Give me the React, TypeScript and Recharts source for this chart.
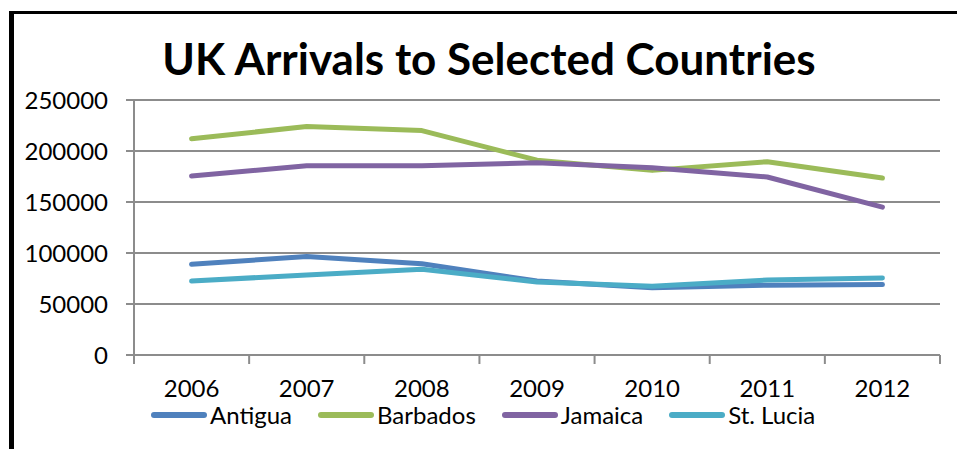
import React from 'react';
import { LineChart, Line, XAxis, YAxis, CartesianGrid, Legend } from 'recharts';

const years = ['2006', '2007', '2008', '2009', '2010', '2011', '2012'];
const antigua = [89000, 96500, 89500, 72500, 66000, 68500, 69000];
const barbados = [212000, 224000, 220000, 191000, 181000, 189500, 173500];
const jamaica = [175500, 185500, 185500, 188500, 183500, 174500, 145000];
const stLucia = [72500, 78500, 84000, 71500, 67500, 73500, 75500];
const yTicks = [0, 50000, 100000, 150000, 200000, 250000];

const seriesDefs = [
  { key: 'Antigua', values: antigua, color: '#4F81BD' },
  { key: 'Barbados', values: barbados, color: '#9BBB59' },
  { key: 'Jamaica', values: jamaica, color: '#8064A2' },
  { key: 'St. Lucia', values: stLucia, color: '#4BACC6' },
];

const data = years.map((y, i) => {
  const row: Record<string, string | number> = { year: y };
  seriesDefs.forEach((s) => {
    row[s.key] = s.values[i];
  });
  return row;
});

const FONT = 'Lato, "Open Sans", sans-serif';
const GRID = '#8c8c8c';

const XTick = (props: any) => {
  const { x, y, payload, index } = props;
  const off = payload && typeof payload.offset === 'number' ? payload.offset : 0;
  const last = index === years.length - 1;
  return (
    <g>
      <line x1={x - off} x2={x - off} y1={y} y2={y + 9} stroke={GRID} strokeWidth={2} />
      {last && <line x1={x + off} x2={x + off} y1={y} y2={y + 9} stroke={GRID} strokeWidth={2} />}
      <text x={x} y={y + 42} textAnchor="middle" fill="#000" fontSize={24} fontFamily={FONT}>
        {payload.value}
      </text>
    </g>
  );
};

const LegendContent = (props: any) => {
  const { payload } = props;
  return (
    <div style={{ display: 'flex', alignItems: 'center', paddingLeft: 150, fontFamily: FONT, fontSize: 24, color: '#000' }}>
      {(payload || []).map((p: any) => (
        <div key={p.value} style={{ display: 'flex', alignItems: 'center', marginRight: 25 }}>
          <svg width={57} height={10} style={{ display: 'block' }}>
            <line x1={4} x2={54} y1={5} y2={5} stroke={p.color} strokeWidth={6} strokeLinecap="round" />
          </svg>
          <span style={{ marginLeft: 3, lineHeight: '26px' }}>{p.value}</span>
        </div>
      ))}
    </div>
  );
};

export default function App() {
  return (
    <div style={{ position: 'absolute', left: 0, top: 0, width: 957, height: 449, background: '#fff', overflow: 'hidden', fontFamily: FONT }}>
      <div
        style={{
          position: 'absolute',
          left: 9,
          top: 11,
          width: 1000,
          height: 500,
          borderLeft: '5px solid #000',
          borderTop: '3px solid #000',
          boxSizing: 'border-box',
        }}
      />
      <div
        style={{
          position: 'absolute',
          left: 139,
          top: 36,
          width: 700,
          textAlign: 'center',
          fontSize: 44,
          lineHeight: '44px',
          fontWeight: 700,
          color: '#000',
          fontFamily: FONT,
          whiteSpace: 'nowrap',
        }}
      >
        UK Arrivals to Selected Countries
      </div>
      <div style={{ position: 'absolute', left: 0, top: 0 }}>
        <LineChart width={957} height={449} data={data} margin={{ top: 100, right: 17, bottom: 54, left: 0 }}>
          <CartesianGrid vertical={false} stroke={GRID} strokeWidth={2} />
          <XAxis
            dataKey="year"
            scale="band"
            height={40}
            tickSize={0}
            tickMargin={0}
            tickLine={false}
            axisLine={{ stroke: GRID, strokeWidth: 2 }}
            tick={<XTick />}
            interval={0}
          />
          <YAxis
            width={134}
            domain={[0, 250000]}
            ticks={yTicks}
            interval={0}
            tickSize={8}
            tickMargin={18}
            axisLine={{ stroke: GRID, strokeWidth: 2 }}
            tickLine={{ stroke: GRID, strokeWidth: 2 }}
            tick={{ fill: '#000', fontSize: 24, fontFamily: FONT }}
          />
          <Legend
            layout="horizontal"
            verticalAlign="middle"
            align="center"
            content={<LegendContent />}
            wrapperStyle={{ top: 402, left: 0, width: 957 }}
          />
          {seriesDefs.map((s) => (
            <Line
              key={s.key}
              dataKey={s.key}
              name={s.key}
              stroke={s.color}
              strokeWidth={5}
              strokeLinecap="round"
              strokeLinejoin="round"
              dot={false}
              type="linear"
              isAnimationActive={false}
            />
          ))}
        </LineChart>
      </div>
    </div>
  );
}
